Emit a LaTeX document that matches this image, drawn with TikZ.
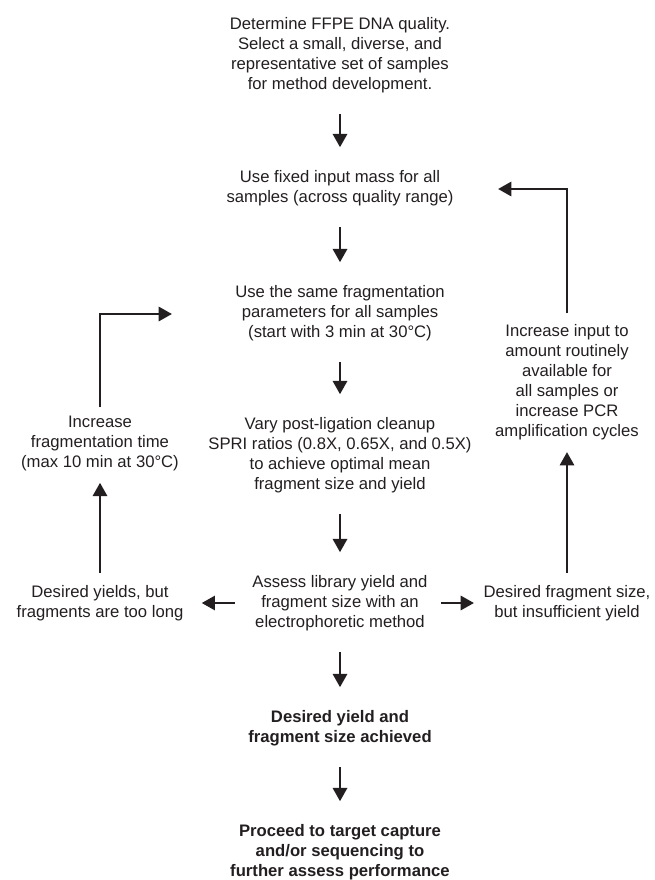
\documentclass[tikz,border=0pt]{standalone}
\usepackage{fontspec}
\setmainfont{Liberation Sans}
\usetikzlibrary{arrows.meta}
\definecolor{inkgray}{RGB}{35,31,32}

\begin{document}
\begin{tikzpicture}[x=0.75pt, y=-0.75pt,
		txt/.style={align=center, inner sep=0pt, text=inkgray, font=\fontsize{12.5}{15}\selectfont},
		boldtxt/.style={txt, font=\fontsize{12.5}{15}\selectfont\bfseries},
		flow/.style={draw=inkgray, line width=2.2pt, -{Triangle[length=10pt,width=10.5pt]}},
		down/.style={flow, shorten <=16pt, shorten >=17pt}]
		%%%%% START %%%%%
		\useasboundingbox (0,0) rectangle (655,880);
		
		% main column
		\node[txt] (quality) at (340,55) {Determine FFPE DNA quality.\\Select a small, diverse, and\\representative set of samples\\for method development.};
		\node[txt] (mass) at (340,188) {Use fixed input mass for all\\samples (across quality range)};
		\node[txt] (fragm) at (340,313) {Use the same fragmentation\\parameters for all samples\\(start with 3 min at 30°C)};
		\node[txt] (spri) at (340,455) {Vary post-ligation cleanup\\SPRI ratios (0.8X, 0.65X, and 0.5X)\\to achieve optimal mean\\fragment size and yield};
		\node[txt] (assess) at (340,603) {Assess library yield and\\fragment size with an\\electrophoretic method};
		\node[boldtxt] (achieved) at (340,728) {Desired yield and\\fragment size achieved};
		\node[boldtxt] (proceed) at (340,852) {Proceed to target capture\\and/or sequencing to\\further assess performance};
		
		% side branches
		\node[txt] (toolong) at (100,603) {Desired yields, but\\fragments are too long};
		\node[txt] (moretime) at (100,443) {Increase\\fragmentation time\\(max 10 min at 30°C)};
		\node[txt] (lowyield) at (567,603) {Desired fragment size,\\but insufficient yield};
		\node[txt] (moreinput) at (567,382) {Increase input to\\amount routinely\\available for\\all samples or\\increase PCR\\amplification cycles};
		
		\coordinate (fragmin) at (172,314);
		\coordinate (massin) at (498,189);
		
		% arrows
		\draw[down] (quality) -- (mass);
		\draw[down] (mass) -- (fragm);
		\draw[down] (fragm) -- (spri);
		\draw[down] (spri) -- (assess);
		\draw[down] (assess) -- (achieved);
		\draw[down] (achieved) -- (proceed);
		
		\draw[flow, shorten <=13pt, shorten >=13.5pt] (assess.west) -- (toolong.east);
		\draw[flow, shorten <=10pt, shorten >=7pt] (assess.east) -- (lowyield.west);
		\draw[flow, shorten <=9pt, shorten >=9pt] (toolong.north) -- (moretime.south);
		\draw[flow, shorten <=9pt, shorten >=9pt] (lowyield.north) -- (moreinput.south);
		\draw[flow, shorten <=6pt] (moretime.north) |- (fragmin);
		\draw[flow, shorten <=8pt] (moreinput.north) |- (massin);
		
		%%%%% END %%%%%
\end{tikzpicture}
\end{document}
